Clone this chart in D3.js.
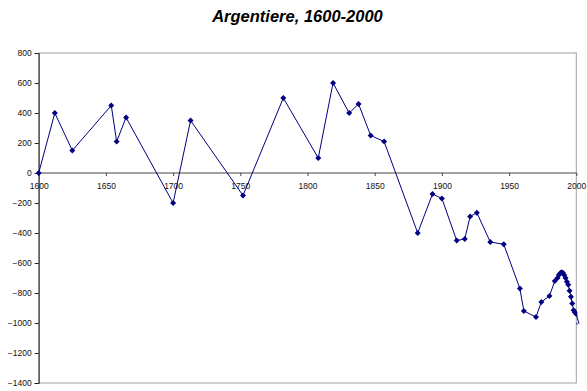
<!DOCTYPE html>
<html><head><meta charset="utf-8">
<script src="https://cdn.jsdelivr.net/npm/d3@7"></script>
<style>body{margin:0;background:#fff}svg{display:block}text{font-family:"Liberation Sans",Arial,sans-serif}</style>
</head><body>
<script>
const title = "Argentiere, 1600-2000";
const years = [1600,1612,1625,1654,1658,1665,1700,1713,1752,1782,1808,1819,1831,1838,1847,1857,1882,1893,1900,1911,1917,1921,1926,1936,1946,1958,1961,1970,1974,1980,1984,1986,1987,1988,1989,1990,1991,1992,1993,1994,1995,1996,1997,1998,1999,2000,2002];
const values = [0,400,150,450,210,370,-200,350,-150,500,100,600,400,460,250,210,-400,-140,-170,-450,-440,-290,-265,-460,-475,-770,-920,-960,-860,-820,-720,-700,-680,-668,-662,-665,-680,-700,-725,-745,-785,-825,-870,-915,-930,-940,-1005];
const xTicks = [1600,1650,1700,1750,1800,1850,1900,1950,2000];
const yTicks = [800,600,400,200,0,-200,-400,-600,-800,-1000,-1200,-1400];

const W=587,H=391;
const L=38.7,R=576.3,T=53,B=383;
const svg=d3.select("body").append("svg").attr("width",W).attr("height",H);
const x=d3.scaleLinear().domain([1600,2000]).range([L,R]);
const y=d3.scaleLinear().domain([-1400,800]).range([B,T]);

svg.append("text").attr("x",(209+386)/2).attr("y",22.3).attr("text-anchor","middle")
  .style("font-size","16.5px").style("font-weight","bold").style("font-style","italic").text(title);

// plot border
svg.append("rect").attr("x",L).attr("y",T).attr("width",R-L).attr("height",B-T)
  .attr("fill","none").attr("stroke","#a0a0a0").attr("stroke-width",1);

// y axis
const ya=svg.append("g").attr("transform",`translate(${L},0)`)
  .call(d3.axisLeft(y).tickValues(yTicks).tickSize(4).tickPadding(3).tickFormat(d3.format("d")));
ya.select(".domain").attr("stroke","#222");
ya.selectAll(".tick line").attr("stroke","#222");
ya.selectAll("text").style("font-size","8.5px").attr("fill","#111").style("font-family","Liberation Sans, Arial, sans-serif");

// x axis at y=0
const xa=svg.append("g").attr("transform",`translate(0,${y(0)})`)
  .call(d3.axisBottom(x).tickValues(xTicks).tickSize(3).tickPadding(7).tickFormat(d3.format("d")));
xa.select(".domain").attr("stroke","#444").attr("d",`M${L},0H${R}`);
xa.selectAll(".tick line").attr("stroke","#444");
xa.selectAll("text").style("font-size","8.5px").attr("fill","#111").style("font-family","Liberation Sans, Arial, sans-serif");

const data=years.map((yr,i)=>({yr,v:values[i]}));
svg.append("defs").append("clipPath").attr("id","pc").append("rect")
  .attr("x",0).attr("y",0).attr("width",R+1).attr("height",H);

svg.append("path").datum(data).attr("fill","none").attr("stroke","#000080").attr("stroke-width",1)
  .attr("d",d3.line().x(d=>x(d.yr)).y(d=>y(d.v)));

svg.append("g").attr("clip-path","url(#pc)").selectAll("path.m").data(data).join("path")
  .attr("class","m").attr("transform",d=>`translate(${x(d.yr)},${y(d.v)})`)
  .attr("d","M0,-3L3,0L0,3L-3,0Z").attr("fill","#000080");
</script>
</body></html>
